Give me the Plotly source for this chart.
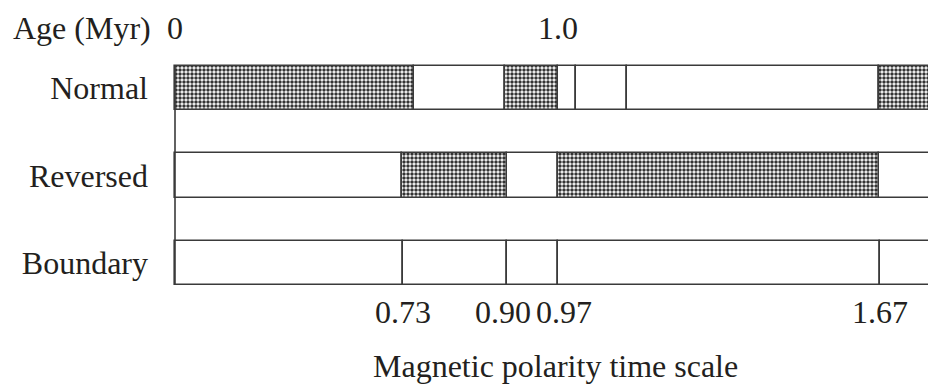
import plotly.graph_objects as go

# ---- data (schematic diagram positions, as drawn) ----
rows = ["Normal", "Reversed", "Boundary"]

normal_edges = [0, 239, 330, 383, 401, 452, 704, 800]
normal_shaded = [True, False, True, False, False, False, True]

reversed_edges = [0, 227, 332, 383, 704, 800]
reversed_shaded = [False, True, False, True, False]

boundary_edges = [0, 228, 332, 383, 705, 800]
boundary_shaded = [False, False, False, False, False]

boundary_ticks = [228, 332, 383, 705]
boundary_labels = ["0.73", "0.90", "0.97", "1.67"]
boundary_label_nudge = [0, -4, 6, 0]

top_ticks = [0, 383]
top_labels = ["0", "1.0"]

age_label = "Age (Myr)"
title_text = "Magnetic polarity time scale"

# ---- styling ----
FONT = "Liberation Serif, Times New Roman, serif"
FS = 32
TXT = "#231f20"
LINE = "#3a3a3a"
LW = 1.6
BAR_W = 0.503

row_defs = [(normal_edges, normal_shaded), (reversed_edges, reversed_shaded),
            (boundary_edges, boundary_shaded)]

sh_y, sh_b, sh_x = [], [], []
wh_y, wh_b, wh_x = [], [], []
for ri, (edges, shaded) in enumerate(row_defs):
    for k, s in enumerate(shaded):
        a, b = edges[k], edges[k + 1]
        if s:
            sh_y.append(ri); sh_b.append(a); sh_x.append(b - a)
        else:
            wh_y.append(ri); wh_b.append(a); wh_x.append(b - a)

fig = go.Figure()
fig.add_trace(go.Bar(
    orientation="h", y=wh_y, x=wh_x, base=wh_b, width=BAR_W,
    marker=dict(color="white", line=dict(color=LINE, width=LW)),
    hoverinfo="skip", showlegend=False))
fig.add_trace(go.Bar(
    orientation="h", y=sh_y, x=sh_x, base=sh_b, width=BAR_W,
    marker=dict(color="white", line=dict(color=LINE, width=LW),
                pattern=dict(shape=".", fgcolor="#333333", bgcolor="white",
                             size=4, solidity=0.6, fillmode="replace")),
    hoverinfo="skip", showlegend=False))

# left vertical edge spanning all rows
fig.add_trace(go.Scatter(
    x=[normal_edges[0], boundary_edges[0]],
    y=[0 - BAR_W / 2, (len(rows) - 1) + BAR_W / 2],
    mode="lines", line=dict(color=LINE, width=LW),
    hoverinfo="skip", showlegend=False))

annotations = []
annotations.append(dict(text=age_label, xref="paper", yref="paper",
                        x=(11 - 170) / 758, y=(291 - 28) / 231,
                        xanchor="left", yanchor="middle", showarrow=False,
                        font=dict(family=FONT, size=FS, color=TXT)))
for v, t in zip(top_ticks, top_labels):
    annotations.append(dict(text=t, xref="x", yref="paper", x=v,
                            y=(291 - 28) / 231, xanchor="center",
                            yanchor="middle", showarrow=False,
                            font=dict(family=FONT, size=FS, color=TXT)))
for v, t, n in zip(boundary_ticks, boundary_labels, boundary_label_nudge):
    annotations.append(dict(text=t, xref="x", yref="paper", x=v,
                            y=(291 - 312) / 231, xanchor="center",
                            yanchor="middle", xshift=n, showarrow=False,
                            font=dict(family=FONT, size=FS, color=TXT)))
annotations.append(dict(text=title_text, xref="paper", yref="paper",
                        x=(555 - 170) / 758, y=(291 - 366) / 231,
                        xanchor="center", yanchor="middle", showarrow=False,
                        font=dict(family=FONT, size=FS, color=TXT)))

fig.update_layout(
    width=928, height=387,
    margin=dict(l=170, r=0, t=60, b=96, pad=0),
    paper_bgcolor="white", plot_bgcolor="white",
    barmode="overlay", bargap=0,
    font=dict(family=FONT, size=FS, color=TXT),
    xaxis=dict(range=[-5, 753], showgrid=False, zeroline=False,
               showticklabels=False, ticks="", showline=False, fixedrange=True),
    yaxis=dict(range=[2.32, -0.32], tickmode="array",
               tickvals=[0, 1, 2], ticktext=rows, showgrid=False,
               zeroline=False, ticks="", showline=False,
               ticklabelstandoff=21, fixedrange=True,
               tickfont=dict(family=FONT, size=FS, color=TXT)),
    annotations=annotations,
)

fig.write_html("out.html", config={"displayModeBar": False},
               post_script="document.body.style.margin='0';"
                           "document.body.style.overflow='hidden';")
